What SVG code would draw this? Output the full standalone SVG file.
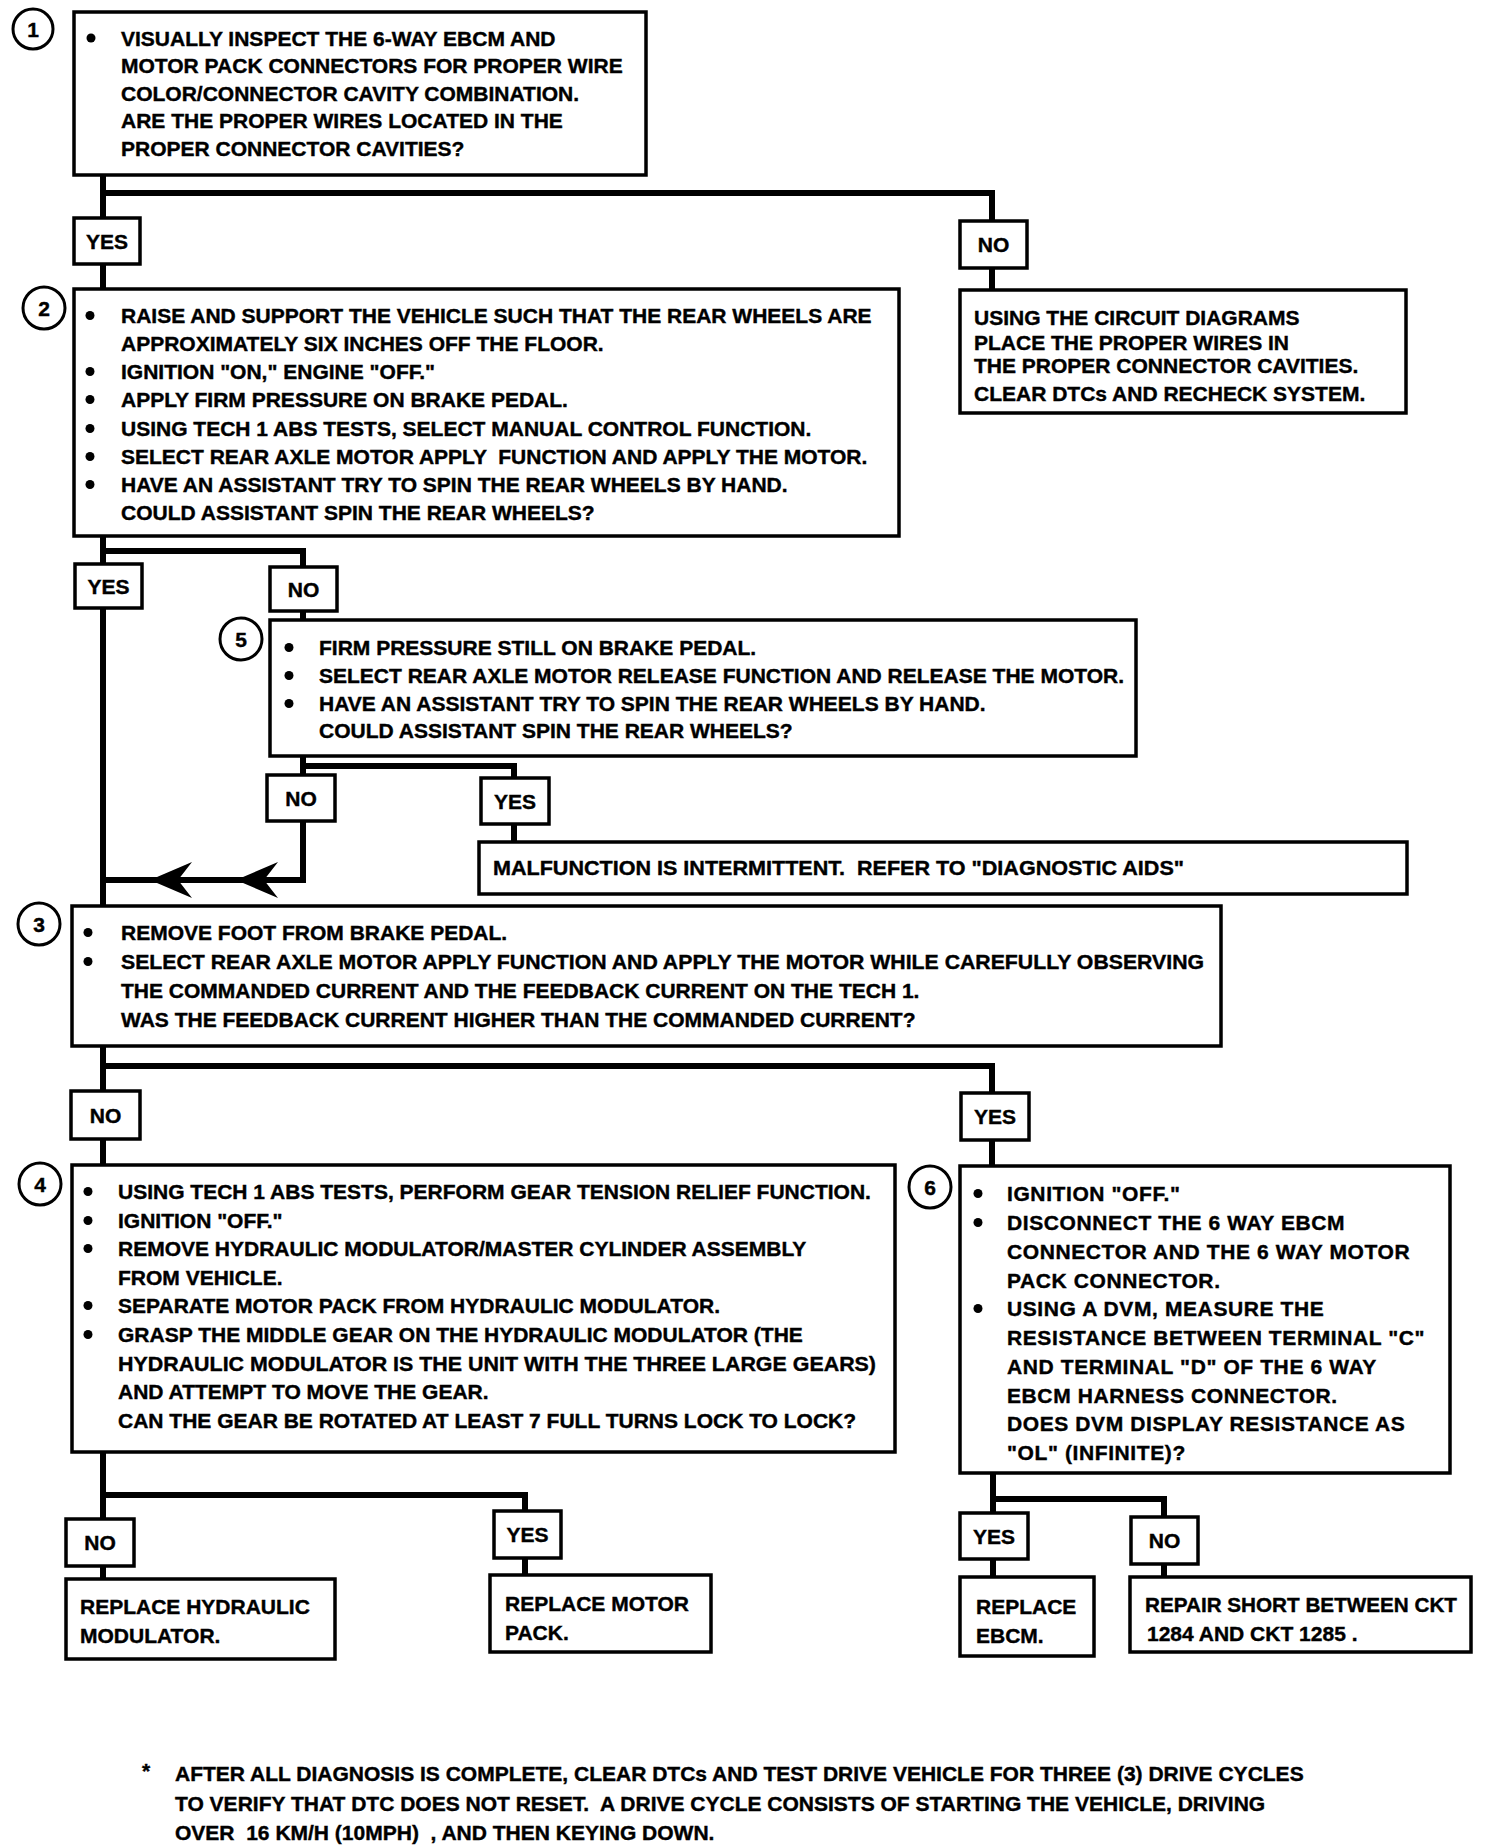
<svg xmlns="http://www.w3.org/2000/svg" xmlns:xlink="http://www.w3.org/1999/xlink" width="1488" height="1848" viewBox="0 0 1488 1848">
<style>
.bg{fill:#fff}
.box{fill:#fff;stroke:#000;stroke-width:3.5}
.lbl{fill:#fff;stroke:#000;stroke-width:3.5}
.num{fill:#fff;stroke:#000;stroke-width:3}
.c{fill:none;stroke:#000;stroke-width:6;stroke-linecap:square;stroke-linejoin:miter}
text{font-family:"Liberation Sans",Arial,sans-serif;font-weight:bold;font-size:21px;fill:#000;stroke:#000;stroke-width:0.4}
.m{text-anchor:middle}
.w{letter-spacing:0.6px}
</style>
<defs>
<circle id="b" r="4.5" fill="#000"/>
</defs>
<rect class="bg" x="0" y="0" width="1488" height="1848"/>

<g id="connectors">
<path class="c" d="M103 175 V289"/>
<path class="c" d="M103 193 H992 V290"/>
<path class="c" d="M103 536 V906"/>
<path class="c" d="M103 551 H303 V620"/>
<path class="c" d="M303 756 V880 H103"/>
<path class="c" d="M303 766 H514 V842"/>
<path d="M150 880 L192 862 L178 880 L192 898 Z" fill="#000"/>
<path d="M236 880 L278 862 L264 880 L278 898 Z" fill="#000"/>
<path class="c" d="M103 1046 V1165"/>
<path class="c" d="M103 1066 H992 V1166"/>
<path class="c" d="M103 1452 V1579"/>
<path class="c" d="M103 1495 H525 V1575"/>
<path class="c" d="M993 1473 V1577"/>
<path class="c" d="M993 1499 H1164 V1577"/>
</g>

<g id="node1">
<circle class="num" cx="33" cy="29" r="20"/>
<text class="m" x="33" y="36.5">1</text>
<rect class="box" x="74" y="12" width="572" height="163"/>
<use xlink:href="#b" x="91" y="38"/>
<text x="121" y="45.5">VISUALLY INSPECT THE 6-WAY EBCM AND</text>
<text x="121" y="73">MOTOR PACK CONNECTORS FOR PROPER WIRE</text>
<text x="121" y="100.5">COLOR/CONNECTOR CAVITY COMBINATION.</text>
<text x="121" y="128">ARE THE PROPER WIRES LOCATED IN THE</text>
<text x="121" y="155.5">PROPER CONNECTOR CAVITIES?</text>
</g>

<g id="yes1"><rect class="lbl" x="74" y="218" width="66" height="46"/><text class="m" x="107" y="248.5">YES</text></g>
<g id="no1"><rect class="lbl" x="960" y="221" width="67" height="47"/><text class="m" x="993.5" y="252">NO</text></g>

<g id="node1no">
<rect class="box" x="960" y="290" width="446" height="123"/>
<text x="974" y="325">USING THE CIRCUIT DIAGRAMS</text>
<text x="974" y="350">PLACE THE PROPER WIRES IN</text>
<text x="974" y="373">THE PROPER CONNECTOR CAVITIES.</text>
<text x="974" y="401">CLEAR DTCs AND RECHECK SYSTEM.</text>
</g>

<g id="node2">
<circle class="num" cx="44" cy="308" r="21"/>
<text class="m" x="44" y="315.5">2</text>
<rect class="box" x="74" y="289" width="825" height="247"/>
<use xlink:href="#b" x="90" y="315.5"/>
<use xlink:href="#b" x="90" y="371.5"/>
<use xlink:href="#b" x="90" y="399.5"/>
<use xlink:href="#b" x="90" y="428.5"/>
<use xlink:href="#b" x="90" y="456.5"/>
<use xlink:href="#b" x="90" y="484.5"/>
<text x="121" y="323">RAISE AND SUPPORT THE VEHICLE SUCH THAT THE REAR WHEELS ARE</text>
<text x="121" y="351">APPROXIMATELY SIX INCHES OFF THE FLOOR.</text>
<text x="121" y="379">IGNITION "ON," ENGINE "OFF."</text>
<text x="121" y="407">APPLY FIRM PRESSURE ON BRAKE PEDAL.</text>
<text x="121" y="436">USING TECH 1 ABS TESTS, SELECT MANUAL CONTROL FUNCTION.</text>
<text x="121" y="464" xml:space="preserve">SELECT REAR AXLE MOTOR APPLY  FUNCTION AND APPLY THE MOTOR.</text>
<text x="121" y="492">HAVE AN ASSISTANT TRY TO SPIN THE REAR WHEELS BY HAND.</text>
<text x="121" y="520">COULD ASSISTANT SPIN THE REAR WHEELS?</text>
</g>

<g id="yes2"><rect class="lbl" x="75" y="564" width="67" height="44"/><text class="m" x="108.5" y="593.5">YES</text></g>
<g id="no2"><rect class="lbl" x="270" y="567" width="67" height="44"/><text class="m" x="303.5" y="596.5">NO</text></g>

<g id="node5">
<circle class="num" cx="241" cy="639" r="21"/>
<text class="m" x="241" y="646.5">5</text>
<rect class="box" x="270" y="620" width="866" height="136"/>
<use xlink:href="#b" x="289" y="647.5"/>
<use xlink:href="#b" x="289" y="675.5"/>
<use xlink:href="#b" x="289" y="703.5"/>
<text x="319" y="655">FIRM PRESSURE STILL ON BRAKE PEDAL.</text>
<text x="319" y="683">SELECT REAR AXLE MOTOR RELEASE FUNCTION AND RELEASE THE MOTOR.</text>
<text x="319" y="711">HAVE AN ASSISTANT TRY TO SPIN THE REAR WHEELS BY HAND.</text>
<text x="319" y="738">COULD ASSISTANT SPIN THE REAR WHEELS?</text>
</g>

<g id="no3"><rect class="lbl" x="267" y="775" width="68" height="46"/><text class="m" x="301" y="805.5">NO</text></g>
<g id="yes3"><rect class="lbl" x="481" y="778" width="68" height="46"/><text class="m" x="515" y="808.5">YES</text></g>

<g id="node5yes">
<rect class="box" x="479" y="842" width="928" height="52"/>
<text x="493" y="875" xml:space="preserve" textLength="691" lengthAdjust="spacingAndGlyphs">MALFUNCTION IS INTERMITTENT.  REFER TO "DIAGNOSTIC AIDS"</text>
</g>

<g id="node3">
<circle class="num" cx="39" cy="924" r="21"/>
<text class="m" x="39" y="931.5">3</text>
<rect class="box" x="72" y="906" width="1149" height="140"/>
<use xlink:href="#b" x="88" y="932.5"/>
<use xlink:href="#b" x="88" y="961.5"/>
<text x="121" y="940">REMOVE FOOT FROM BRAKE PEDAL.</text>
<text x="121" y="969" textLength="1083" lengthAdjust="spacingAndGlyphs">SELECT REAR AXLE MOTOR APPLY FUNCTION AND APPLY THE MOTOR WHILE CAREFULLY OBSERVING</text>
<text x="121" y="998">THE COMMANDED CURRENT AND THE FEEDBACK CURRENT ON THE TECH 1.</text>
<text x="121" y="1027">WAS THE FEEDBACK CURRENT HIGHER THAN THE COMMANDED CURRENT?</text>
</g>

<g id="no4"><rect class="lbl" x="71" y="1091" width="69" height="48"/><text class="m" x="105.5" y="1122.5">NO</text></g>
<g id="yes4"><rect class="lbl" x="961" y="1093" width="68" height="47"/><text class="m" x="995" y="1124">YES</text></g>

<g id="node4">
<circle class="num" cx="40" cy="1184" r="21"/>
<text class="m" x="40" y="1191.5">4</text>
<rect class="box" x="72" y="1165" width="823" height="287"/>
<use xlink:href="#b" x="88" y="1191.5"/>
<use xlink:href="#b" x="88" y="1220.5"/>
<use xlink:href="#b" x="88" y="1248.5"/>
<use xlink:href="#b" x="88" y="1305.5"/>
<use xlink:href="#b" x="88" y="1334.5"/>
<text x="118" y="1199">USING TECH 1 ABS TESTS, PERFORM GEAR TENSION RELIEF FUNCTION.</text>
<text x="118" y="1228">IGNITION "OFF."</text>
<text x="118" y="1256">REMOVE HYDRAULIC MODULATOR/MASTER CYLINDER ASSEMBLY</text>
<text x="118" y="1285">FROM VEHICLE.</text>
<text x="118" y="1313">SEPARATE MOTOR PACK FROM HYDRAULIC MODULATOR.</text>
<text x="118" y="1342">GRASP THE MIDDLE GEAR ON THE HYDRAULIC MODULATOR (THE</text>
<text x="118" y="1371" textLength="758" lengthAdjust="spacingAndGlyphs">HYDRAULIC MODULATOR IS THE UNIT WITH THE THREE LARGE GEARS)</text>
<text x="118" y="1399">AND ATTEMPT TO MOVE THE GEAR.</text>
<text x="118" y="1428">CAN THE GEAR BE ROTATED AT LEAST 7 FULL TURNS LOCK TO LOCK?</text>
</g>

<g id="node6">
<circle class="num" cx="930" cy="1187" r="21"/>
<text class="m" x="930" y="1194.5">6</text>
<rect class="box" x="960" y="1166" width="490" height="307"/>
<use xlink:href="#b" x="978" y="1193.5"/>
<use xlink:href="#b" x="978" y="1222.5"/>
<use xlink:href="#b" x="978" y="1308.5"/>
<text class="w" x="1007" y="1201">IGNITION "OFF."</text>
<text class="w" x="1007" y="1230">DISCONNECT THE 6 WAY EBCM</text>
<text class="w" x="1007" y="1259">CONNECTOR AND THE 6 WAY MOTOR</text>
<text class="w" x="1007" y="1288">PACK CONNECTOR.</text>
<text class="w" x="1007" y="1316">USING A DVM, MEASURE THE</text>
<text class="w" x="1007" y="1345">RESISTANCE BETWEEN TERMINAL "C"</text>
<text class="w" x="1007" y="1374">AND TERMINAL "D" OF THE 6 WAY</text>
<text class="w" x="1007" y="1403">EBCM HARNESS CONNECTOR.</text>
<text class="w" x="1007" y="1431">DOES DVM DISPLAY RESISTANCE AS</text>
<text class="w" x="1007" y="1460">"OL" (INFINITE)?</text>
</g>

<g id="no5"><rect class="lbl" x="66" y="1519" width="68" height="47"/><text class="m" x="100" y="1550">NO</text></g>
<g id="yes5"><rect class="lbl" x="494" y="1511" width="67" height="47"/><text class="m" x="527.5" y="1542">YES</text></g>
<g id="yes6"><rect class="lbl" x="960" y="1513" width="68" height="46"/><text class="m" x="994" y="1543.5">YES</text></g>
<g id="no6"><rect class="lbl" x="1131" y="1517" width="67" height="47"/><text class="m" x="1164.5" y="1548">NO</text></g>

<g id="node4no">
<rect class="box" x="66" y="1579" width="269" height="80"/>
<text x="80" y="1614">REPLACE HYDRAULIC</text>
<text x="80" y="1643">MODULATOR.</text>
</g>
<g id="node4yes">
<rect class="box" x="490" y="1575" width="221" height="77"/>
<text x="505" y="1611">REPLACE MOTOR</text>
<text x="505" y="1640">PACK.</text>
</g>
<g id="node6yes">
<rect class="box" x="960" y="1577" width="134" height="79"/>
<text x="976" y="1614">REPLACE</text>
<text x="976" y="1643">EBCM.</text>
</g>
<g id="node6no">
<rect class="box" x="1130" y="1577" width="341" height="75"/>
<text x="1145" y="1612" textLength="312" lengthAdjust="spacingAndGlyphs">REPAIR SHORT BETWEEN CKT</text>
<text x="1147" y="1641" xml:space="preserve">1284 AND CKT 1285 .</text>
</g>

<g id="footnote">
<text x="142" y="1778">*</text>
<text x="175" y="1781">AFTER ALL DIAGNOSIS IS COMPLETE, CLEAR DTCs AND TEST DRIVE VEHICLE FOR THREE (3) DRIVE CYCLES</text>
<text x="175" y="1811" xml:space="preserve">TO VERIFY THAT DTC DOES NOT RESET.  A DRIVE CYCLE CONSISTS OF STARTING THE VEHICLE, DRIVING</text>
<text x="175" y="1840" xml:space="preserve">OVER  16 KM/H (10MPH)  , AND THEN KEYING DOWN.</text>
</g>
</svg>
